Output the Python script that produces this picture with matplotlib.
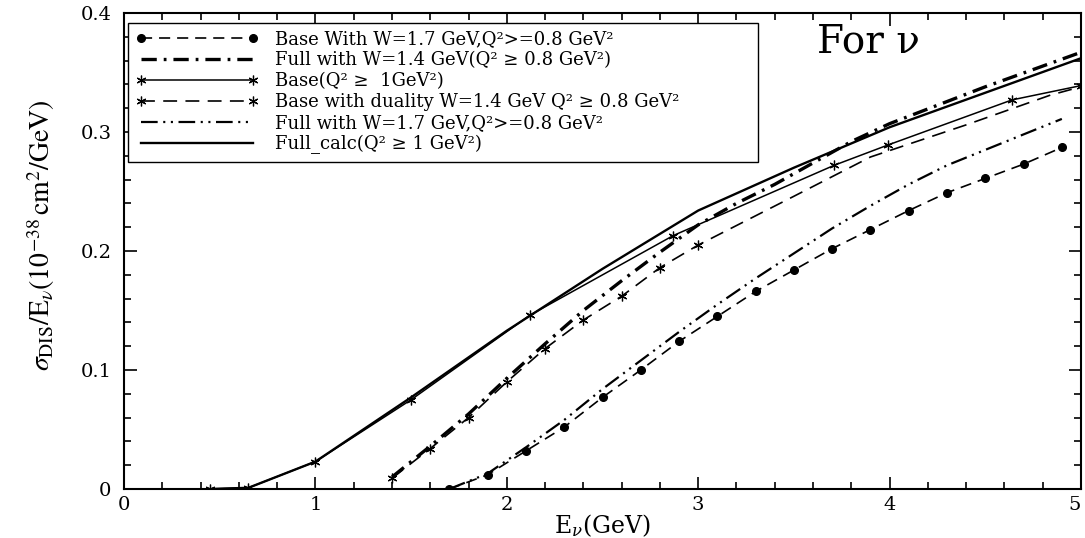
import numpy as np
import matplotlib
matplotlib.use('Agg')
import matplotlib.pyplot as plt
from matplotlib.ticker import MultipleLocator

plt.rcParams['font.family'] = ['DejaVu Serif']
plt.rcParams['mathtext.fontset'] = 'dejavuserif'
plt.rcParams['lines.scale_dashes'] = False

# Base with W=1.7 GeV (dashed, filled circles)
base17_x = [1.7, 1.9, 2.1, 2.3, 2.5, 2.7, 2.9, 3.1, 3.3, 3.5, 3.7, 3.9, 4.1, 4.3, 4.5, 4.7, 4.9]
base17_y = [0.0, 0.012, 0.032, 0.052, 0.077, 0.100, 0.124, 0.145, 0.166, 0.184, 0.202, 0.218,
            0.234, 0.249, 0.261, 0.273, 0.287]

# Full with W=1.4 GeV (thick dash-dot)
full14_x = [1.4, 1.6, 1.8, 2.0, 2.2, 2.4, 2.6, 2.8, 3.0, 3.2, 3.4, 3.6, 3.8, 4.0, 4.5, 5.0]
full14_y = [0.010, 0.036, 0.063, 0.093, 0.122, 0.150, 0.175, 0.199, 0.222, 0.240, 0.256, 0.274,
            0.292, 0.307, 0.338, 0.367]

# Base(Q^2 >= 1 GeV^2) (thin solid, asterisks)
baseq_x = [0.45, 0.65, 1.0, 1.5, 2.12, 2.87, 3.71, 3.99, 4.64, 5.0]
baseq_y = [0.0, 0.001, 0.023, 0.075, 0.146, 0.213, 0.272, 0.289, 0.327, 0.339]

# Base with duality W=1.4 GeV (dashed, asterisks)
dual_x = [1.4, 1.6, 1.8, 2.0, 2.2, 2.4, 2.6, 2.8, 3.0, 3.5, 3.9, 4.4, 4.84, 5.0]
dual_y = [0.009, 0.034, 0.060, 0.090, 0.118, 0.142, 0.162, 0.186, 0.205, 0.246, 0.279, 0.306,
          0.331, 0.338]

# Full with W=1.7 GeV (dash-dot-dot)
full17_x = [1.7, 1.9, 2.1, 2.3, 2.5, 2.7, 2.9, 3.1, 3.3, 3.5, 3.7, 3.9, 4.1, 4.3, 4.5, 4.7, 4.9]
full17_y = [0.0, 0.013, 0.035, 0.058, 0.084, 0.108, 0.132, 0.155, 0.177, 0.198, 0.219, 0.238,
            0.256, 0.272, 0.285, 0.298, 0.311]

# Full_calc(Q^2 >= 1 GeV^2) (solid)
fullc_x = [0.45, 0.65, 1.0, 1.5, 2.0, 2.5, 3.0, 3.5, 4.0, 4.5, 5.0]
fullc_y = [0.0, 0.001, 0.023, 0.077, 0.133, 0.185, 0.234, 0.270, 0.304, 0.333, 0.362]

labels = [
    'Base With W=1.7 GeV,Q²>=0.8 GeV²',
    'Full with W=1.4 GeV(Q² ≥ 0.8 GeV²)',
    'Base(Q² ≥  1GeV²)',
    'Base with duality W=1.4 GeV Q² ≥ 0.8 GeV²',
    'Full with W=1.7 GeV,Q²>=0.8 GeV²',
    'Full_calc(Q² ≥ 1 GeV²)',
]

xticks = [0, 1, 2, 3, 4, 5]
yticks = [0, 0.1, 0.2, 0.3, 0.4]
ytick_labels = ['0', '0.1', '0.2', '0.3', '0.4']

star = (6, 2, 0)

fig = plt.figure(figsize=(10.85, 5.38), dpi=100)
ax = fig.add_axes([0.1143, 0.0911, 0.882, 0.8847])

ax.plot(base17_x, base17_y, color='black', lw=1.2, ls=(0, (8, 5)),
        marker='o', ms=5.5, label=labels[0])
ax.plot(full14_x, full14_y, color='black', lw=2.4, ls=(0, (11, 5, 2, 5)),
        label=labels[1])
ax.plot(baseq_x, baseq_y, color='black', lw=1.1, marker=star, ms=7, mew=0.9,
        label=labels[2])
ax.plot(dual_x, dual_y, color='black', lw=1.2, ls=(0, (10, 6)), marker=star, ms=7,
        mew=0.9, markevery=list(range(9)), label=labels[3])
ax.plot(full17_x, full17_y, color='black', lw=1.6, ls=(0, (12, 4, 1.5, 4, 1.5, 4)),
        label=labels[4])
ax.plot(fullc_x, fullc_y, color='black', lw=1.7, label=labels[5])

ax.set_xlim(0, 5)
ax.set_ylim(0, 0.4)
ax.set_xticks(xticks)
ax.set_xticklabels([str(v) for v in xticks])
ax.set_yticks(yticks)
ax.set_yticklabels(ytick_labels)
ax.xaxis.set_minor_locator(MultipleLocator(0.2))
ax.yaxis.set_minor_locator(MultipleLocator(0.02))
ax.tick_params(which='both', direction='in', top=True, right=True, labelsize=14, width=1.2)
ax.tick_params(which='major', length=9)
ax.tick_params(which='minor', length=5)
ax.tick_params(axis='x', pad=5)
ax.tick_params(axis='y', pad=9)
ax.get_xticklabels()[-1].set_ha('right')
for s in ax.spines.values():
    s.set_linewidth(1.5)

ax.set_xlabel(r'E$_{\nu}$(GeV)', fontsize=17, labelpad=-1)
ax.set_ylabel(r'$\sigma_{\rm DIS}/{\rm E}_{\nu}(10^{-38}\,{\rm cm}^{2}/{\rm GeV})$',
              fontsize=20, family='Liberation Serif', math_fontfamily='stix')
ax.yaxis.set_label_coords(-0.07, 0.534)

ax.text(0.724, 0.939, 'For ν', transform=ax.transAxes, fontsize=28, ha='left', va='center')

leg = ax.legend(loc='upper left', bbox_to_anchor=(0.0042, 0.695, 0.658, 0.284),
                mode='expand', borderaxespad=0, fontsize=13, handlelength=6.8,
                numpoints=2, fancybox=False, edgecolor='black', framealpha=1,
                labelspacing=0.16, borderpad=0.42, handletextpad=0.9)
leg.get_frame().set_linewidth(1.0)

fig.savefig('out.png', dpi=100)
